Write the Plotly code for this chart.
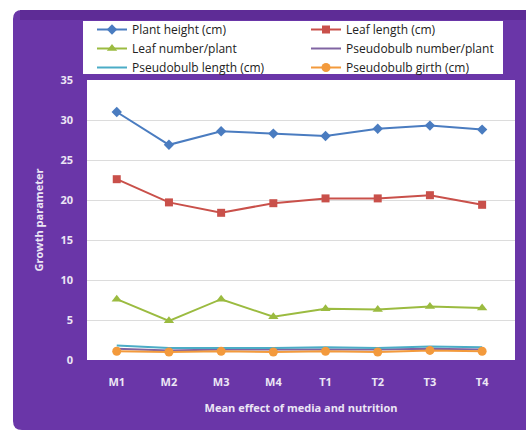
import plotly.graph_objects as go

categories = ["M1", "M2", "M3", "M4", "T1", "T2", "T3", "T4"]
plant_height = [31.0, 26.9, 28.6, 28.3, 28.0, 28.9, 29.3, 28.8]
leaf_length = [22.6, 19.7, 18.4, 19.6, 20.2, 20.2, 20.6, 19.4]
leaf_number = [7.6, 4.9, 7.6, 5.4, 6.4, 6.3, 6.7, 6.5]
pb_number = [1.4, 1.2, 1.3, 1.3, 1.3, 1.3, 1.4, 1.3]
pb_length = [1.8, 1.5, 1.5, 1.5, 1.6, 1.5, 1.7, 1.6]
pb_girth = [1.1, 1.0, 1.1, 1.0, 1.1, 1.0, 1.2, 1.1]

W, H = 526, 432
L, R, T, B = 87, 11, 80, 72
PW, PH = W - L - R, H - T - B

def px(x):
    return (x - L) / PW

def py(y):
    return (H - B - y) / PH

PURPLE = "#6a36a8"
TXT = "#ece6f5"
FONT = "Open Sans"

fig = go.Figure()

series = [
    ("Plant height (cm)", plant_height, "#4a7cc0", "diamond", 8, "legend"),
    ("Leaf length (cm)", leaf_length, "#c9504a", "square", 8, "legend2"),
    ("Leaf number/plant", leaf_number, "#9bbb40", "triangle-up", 9, "legend"),
    ("Pseudobulb number/plant", pb_number, "#8064a2", None, 0, "legend2"),
    ("Pseudobulb length (cm)", pb_length, "#4bacc6", None, 0, "legend"),
    ("Pseudobulb girth (cm)", pb_girth, "#f39a3c", "circle", 9, "legend2"),
]

for name, vals, col, sym, size, leg in series:
    if sym:
        fig.add_trace(go.Scatter(x=categories, y=vals, name=name, mode="lines+markers",
                                 legend=leg,
                                 line=dict(color=col, width=2),
                                 marker=dict(symbol=sym, size=size, color=col)))
    else:
        fig.add_trace(go.Scatter(x=categories, y=vals, name=name, mode="lines",
                                 legend=leg,
                                 line=dict(color=col, width=2)))

def rounded_rect(x0, y0, x1, y1, r):
    return (f"M {px(x0 + r)} {py(y0)} L {px(x1 - r)} {py(y0)} "
            f"Q {px(x1)} {py(y0)} {px(x1)} {py(y0 + r)} "
            f"L {px(x1)} {py(y1 - r)} Q {px(x1)} {py(y1)} {px(x1 - r)} {py(y1)} "
            f"L {px(x0 + r)} {py(y1)} Q {px(x0)} {py(y1)} {px(x0)} {py(y1 - r)} "
            f"L {px(x0)} {py(y0 + r)} Q {px(x0)} {py(y0)} {px(x0 + r)} {py(y0)} Z")

shapes = [
    dict(type="path", xref="paper", yref="paper", layer="below",
         path=rounded_rect(13, 10, 535, 430, 9), fillcolor=PURPLE, line=dict(width=0)),
    dict(type="rect", xref="paper", yref="paper", layer="below",
         x0=px(20), x1=px(535), y0=py(10), y1=py(20), fillcolor="#5e2c96", line=dict(width=0)),
    dict(type="rect", xref="paper", yref="paper", layer="below",
         x0=0, x1=1, y0=0, y1=1, fillcolor="white", line=dict(width=0)),
    dict(type="rect", xref="paper", yref="paper", layer="below",
         x0=px(83), x1=px(503), y0=py(21), y1=py(74), fillcolor="white",
         line=dict(width=0)),
]

legfont = dict(family=FONT, size=12, color="#222222")

fig.update_layout(
    width=W, height=H,
    margin=dict(l=L, r=R, t=T, b=B),
    paper_bgcolor="white",
    plot_bgcolor="white",
    shapes=shapes,
    font=dict(family=FONT, size=11, color=TXT),
    showlegend=True,
    legend=dict(
        orientation="v",
        x=px(92), y=py(15), xanchor="left", yanchor="top",
        bgcolor="rgba(0,0,0,0)", font=legfont, itemwidth=30,
    ),
    legend2=dict(
        orientation="v",
        x=px(306), y=py(15), xanchor="left", yanchor="top",
        bgcolor="rgba(0,0,0,0)", font=legfont, itemwidth=30,
    ),
    xaxis=dict(
        type="category",
        range=[-0.57, 7.63],
        showgrid=False, zeroline=False, showline=False,
        ticks="", ticklabelstandoff=14,
        tickfont=dict(family=FONT, size=11, color=TXT, weight="bold"),
        title=dict(text="Mean effect of media and nutrition",
                   font=dict(family=FONT, size=11, color=TXT, weight="bold"),
                   standoff=16),
    ),
    yaxis=dict(
        range=[0, 35],
        dtick=5,
        showgrid=True, gridcolor="#dcdcdc", gridwidth=1,
        zeroline=False, showline=False,
        ticks="", ticklabelstandoff=13,
        tickfont=dict(family=FONT, size=11, color=TXT, weight="bold"),
        title=dict(text="Growth parameter",
                   font=dict(family=FONT, size=11, color=TXT, weight="bold"),
                   standoff=14),
    ),
)

fig.write_html("out.html")
